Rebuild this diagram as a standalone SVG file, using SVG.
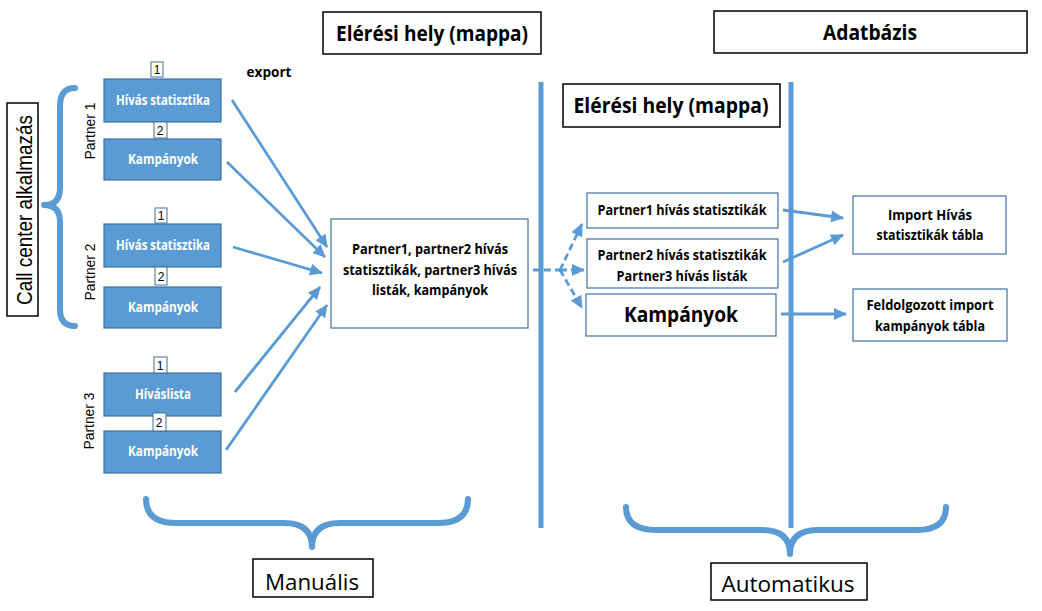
<svg xmlns="http://www.w3.org/2000/svg" width="1042" height="611" viewBox="0 0 1042 611">
<style>
.t{font-family:"Open Sans","Noto Sans","Liberation Sans",sans-serif;text-anchor:middle}
.b{font-weight:bold}
.w{fill:#ffffff}
.k{fill:#000000}
.bb{fill:#5b9bd5;stroke:#41719c;stroke-width:1.2}
.wb{fill:#ffffff;stroke:#41719c;stroke-width:1.2}
.frame{fill:#ffffff;stroke:#000000;stroke-width:1.5}
.num{fill:#ffffff;stroke:#41719c;stroke-width:1}
.arrow{stroke:#5b9bd5;stroke-width:2.8;fill:none;marker-end:url(#ah)}
.dash{stroke:#5b9bd5;stroke-width:2.8;fill:none;stroke-dasharray:7,4}
.brace{stroke:#5b9bd5;stroke-width:6;fill:none;stroke-linecap:round;stroke-linejoin:round}
.vl{stroke:#5b9bd5;stroke-width:5}
.ar{font-family:"Liberation Sans",Arial,sans-serif;text-anchor:middle}
</style>
<defs>
<marker id="ah" markerUnits="userSpaceOnUse" markerWidth="14" markerHeight="12" refX="12" refY="6" orient="auto">
<path d="M0,0 L13,6 L0,12 Z" fill="#5b9bd5"/>
</marker>
</defs>

<g id="frames">
<g id="title-mappa1"><rect class="frame" x="323" y="12" width="218" height="42"/><text class="t b k" x="432" y="41" font-size="21" textLength="192" lengthAdjust="spacingAndGlyphs">Elérési hely (mappa)</text></g>
<g id="title-adatbazis"><rect class="frame" x="714" y="11" width="313" height="42"/><text class="t b k" x="870" y="40" font-size="21" textLength="94" lengthAdjust="spacingAndGlyphs">Adatbázis</text></g>
<g id="title-mappa2"><rect class="frame" x="563" y="84" width="217" height="43"/><text class="t b k" x="671" y="113" font-size="21" textLength="195" lengthAdjust="spacingAndGlyphs">Elérési hely (mappa)</text></g>
<g id="callcenter"><rect class="frame" x="7" y="103" width="31" height="213"/><text class="ar k" transform="translate(32,210) rotate(-90)" font-size="22" textLength="190" lengthAdjust="spacingAndGlyphs">Call center alkalmazás</text></g>
<g id="manualis"><rect class="frame" x="253" y="559" width="120" height="38"/><text class="t k" x="312" y="590" font-size="22" textLength="94" lengthAdjust="spacingAndGlyphs">Manuális</text></g>
<g id="automatikus"><rect class="frame" x="711" y="563" width="156" height="37"/><text class="t k" x="788" y="592" font-size="22" textLength="133" lengthAdjust="spacingAndGlyphs">Automatikus</text></g>
</g>

<g id="braces">
<path class="brace" d="M75,88 Q60,88 60,106 L60,188 Q60,205 44,205 Q60,205 60,222 L60,309 Q60,326 75,326"/>
<path class="brace" d="M146,499 Q146,523 176,523 L284,523 Q312,523 312,547 Q312,523 340,523 L438,523 Q468,523 468,499"/>
<path class="brace" d="M626,507 Q626,530 656,530 L762,530 Q790,530 790,554 Q790,530 818,530 L917,530 Q946,530 946,507"/>
</g>

<g id="dividers">
<line class="vl" x1="541" y1="82" x2="541" y2="528"/>
<line class="vl" x1="791" y1="82" x2="791" y2="528"/>
</g>

<g id="partner-labels">
<text class="ar k" transform="translate(95,131) rotate(-90)" font-size="15" textLength="57" lengthAdjust="spacingAndGlyphs">Partner 1</text>
<text class="ar k" transform="translate(95,272) rotate(-90)" font-size="15" textLength="57" lengthAdjust="spacingAndGlyphs">Partner 2</text>
<text class="ar k" transform="translate(94,421) rotate(-90)" font-size="15" textLength="57" lengthAdjust="spacingAndGlyphs">Partner 3</text>
<text class="t b k" x="269" y="77" font-size="13.5" textLength="45" lengthAdjust="spacingAndGlyphs">export</text>
</g>

<g id="p1-hivas"><rect class="bb" x="104" y="79" width="117" height="43"/><text class="t b w" x="163" y="105" font-size="13.5" textLength="94" lengthAdjust="spacingAndGlyphs">Hívás statisztika</text></g>
<g id="p1-kamp"><rect class="bb" x="104" y="139" width="117" height="41"/><text class="t b w" x="163" y="164" font-size="13.5" textLength="70" lengthAdjust="spacingAndGlyphs">Kampányok</text></g>
<g id="p2-hivas"><rect class="bb" x="104" y="224" width="117" height="43"/><text class="t b w" x="163" y="250" font-size="13.5" textLength="94" lengthAdjust="spacingAndGlyphs">Hívás statisztika</text></g>
<g id="p2-kamp"><rect class="bb" x="104" y="287" width="117" height="41"/><text class="t b w" x="163" y="312" font-size="13.5" textLength="70" lengthAdjust="spacingAndGlyphs">Kampányok</text></g>
<g id="p3-hivaslista"><rect class="bb" x="104" y="373" width="117" height="43"/><text class="t b w" x="163" y="399" font-size="13.5" textLength="56" lengthAdjust="spacingAndGlyphs">Híváslista</text></g>
<g id="p3-kamp"><rect class="bb" x="104" y="431" width="117" height="42"/><text class="t b w" x="163" y="456" font-size="13.5" textLength="70" lengthAdjust="spacingAndGlyphs">Kampányok</text></g>

<g id="numbers">
<g id="n-p1-1"><rect class="num" x="151" y="62" width="12" height="15"/><text class="ar k" x="157" y="74" font-size="12">1</text></g>
<g id="n-p1-2"><rect class="num" x="154" y="122" width="13" height="16"/><text class="ar k" x="160" y="135" font-size="12">2</text></g>
<g id="n-p2-1"><rect class="num" x="155" y="208" width="12" height="15"/><text class="ar k" x="161" y="220" font-size="12">1</text></g>
<g id="n-p2-2"><rect class="num" x="155" y="267" width="12" height="18"/><text class="ar k" x="161" y="281" font-size="12">2</text></g>
<g id="n-p3-1"><rect class="num" x="154" y="357" width="13" height="16"/><text class="ar k" x="160" y="370" font-size="12">1</text></g>
<g id="n-p3-2"><rect class="num" x="153" y="413" width="13" height="18"/><text class="ar k" x="159" y="427" font-size="12">2</text></g>
</g>

<g id="center-box"><rect class="wb" x="331" y="219" width="197" height="109"/>
<text class="t b k" x="430" y="254" font-size="13.5" textLength="156" lengthAdjust="spacingAndGlyphs">Partner1, partner2 hívás</text>
<text class="t b k" x="430" y="275" font-size="13.5" textLength="174" lengthAdjust="spacingAndGlyphs">statisztikák, partner3 hívás</text>
<text class="t b k" x="430" y="295" font-size="13.5" textLength="116" lengthAdjust="spacingAndGlyphs">listák, kampányok</text>
</g>

<g id="r-p1"><rect class="wb" x="587" y="193" width="191" height="35"/><text class="t b k" x="682" y="215" font-size="13.5" textLength="169" lengthAdjust="spacingAndGlyphs">Partner1 hívás statisztikák</text></g>
<g id="r-p23"><rect class="wb" x="587" y="239" width="191" height="49"/><text class="t b k" x="682" y="260" font-size="13.5" textLength="169" lengthAdjust="spacingAndGlyphs">Partner2 hívás statisztikák</text><text class="t b k" x="682" y="281" font-size="13.5" textLength="131" lengthAdjust="spacingAndGlyphs">Partner3 hívás listák</text></g>
<g id="r-kamp"><rect class="wb" x="586" y="294" width="190" height="42"/><text class="t b k" x="681" y="322" font-size="21" textLength="114" lengthAdjust="spacingAndGlyphs">Kampányok</text></g>

<g id="db-import"><rect class="wb" x="853" y="196" width="153" height="58"/><text class="t b k" x="930" y="220" font-size="13.5" textLength="84" lengthAdjust="spacingAndGlyphs">Import Hívás</text><text class="t b k" x="930" y="240" font-size="13.5" textLength="107" lengthAdjust="spacingAndGlyphs">statisztikák tábla</text></g>
<g id="db-feld"><rect class="wb" x="853" y="289" width="154" height="52"/><text class="t b k" x="930" y="310" font-size="13.5" textLength="127" lengthAdjust="spacingAndGlyphs">Feldolgozott import</text><text class="t b k" x="930" y="331" font-size="13.5" textLength="110" lengthAdjust="spacingAndGlyphs">kampányok tábla</text></g>

<g id="connectors">
<line class="arrow" x1="232" y1="100" x2="327" y2="247"/>
<line class="arrow" x1="227" y1="162" x2="325" y2="257"/>
<line class="arrow" x1="233" y1="247" x2="322" y2="273"/>
<line class="arrow" x1="235" y1="392" x2="320" y2="287"/>
<line class="arrow" x1="226" y1="450" x2="327" y2="305"/>
<path class="dash" d="M533,270 L560,270"/>
<path class="dash" d="M560,270 L582,224" marker-end="url(#ah)"/>
<path class="dash" d="M560,270 L584,270" marker-end="url(#ah)"/>
<path class="dash" d="M560,270 L582,308" marker-end="url(#ah)"/>
<line class="arrow" x1="783" y1="210" x2="843" y2="218"/>
<line class="arrow" x1="783" y1="262" x2="843" y2="235"/>
<line class="arrow" x1="781" y1="314" x2="846" y2="314"/>
</g>
</svg>
